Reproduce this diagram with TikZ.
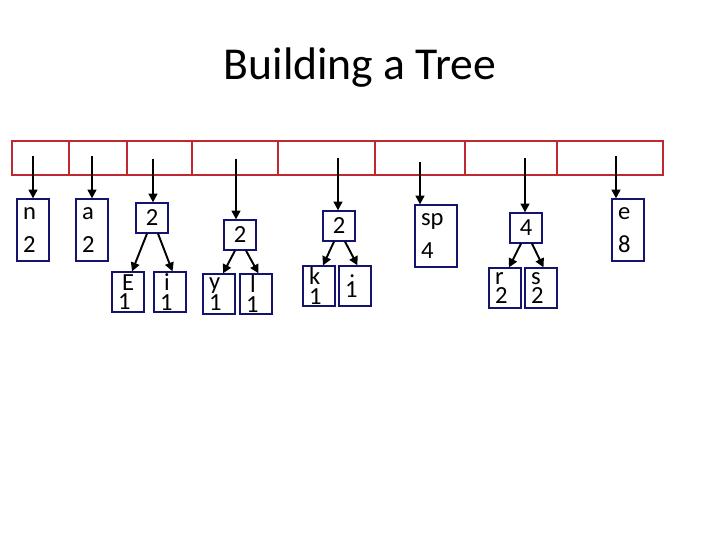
\documentclass[tikz,border=0pt]{standalone}
\usepackage{fontspec}
\setmainfont{Carlito}
\usetikzlibrary{arrows.meta}
\definecolor{slotred}{RGB}{192,40,48}
\definecolor{boxblue}{RGB}{20,20,110}
\tikzset{
  slot/.style={draw=slotred, line width=0.6pt},
  tall/.style={draw=boxblue, line width=0.7pt, minimum width=0.64cm, minimum height=1.24cm,
    align=left, inner xsep=3pt, inner ysep=1pt, font=\fontsize{14}{17}\selectfont, text width=0.4cm},
  count/.style={draw=boxblue, line width=0.7pt, minimum width=0.64cm, minimum height=0.6cm,
    inner sep=1pt, font=\fontsize{14}{17}\selectfont},
  leaf/.style={draw=boxblue, line width=0.7pt, minimum width=0.64cm, minimum height=0.8cm,
    align=left, inner xsep=3pt, inner ysep=1pt, font=\fontsize{14}{11}\selectfont, text width=0.4cm},
  ptr/.style={line width=1.1pt, -{Triangle[length=5pt,width=5pt]}}
}
\begin{document}
\begin{tikzpicture}[x=0.02cm, y=-0.02cm]
  \useasboundingbox (0,0) rectangle (720,540);
  \node (title) at (360,68) {\fontsize{26}{30}\selectfont Building a Tree};

  % table of slots
  \draw[slot] (12,141) rectangle (663,175);
  \foreach \x in {69,127,192,278,375,465,557}
    \draw[slot] (\x,141) -- (\x,175);

  % single symbols
  \node[tall] (n) at (33,230) {n\\[2pt]2};
  \node[tall] (a) at (92,230) {a\\[2pt]2};
  \node[tall, minimum width=0.84cm, text width=0.6cm] (sp) at (436,236) {sp\\[2pt]4};
  \node[tall] (e) at (628,230) {e\\[2pt]8};

  % subtrees
  \node[count] (t1) at (152,218) {2};
  \node[leaf] (E) at (128,292) {\,E\\1};
  \node[leaf] (i) at (170,292) {\,i\\1};
  \node[count] (t2) at (240,235) {2};
  \node[leaf] (y) at (219,294) {y\\1};
  \node[leaf] (l) at (256,294) {\,l\\1};
  \node[count] (t3) at (339,226) {2};
  \node[leaf] (k) at (319,286) {k\\1};
  \node[leaf] (dot) at (355,286) {\,.\\1};
  \node[count] (t4) at (526,228) {4};
  \node[leaf] (r) at (505,288) {r\\2};
  \node[leaf] (s) at (541,288) {s\\2};

  % pointers from the slots
  \foreach \name/\x/\y in {n/33/156, a/92/156, t1/153/159, t2/236/159,
                           t3/338/158, sp/420/162, t4/525/158, e/616/156}
  {
    \coordinate (p\name) at (\x,\y);
    \draw[ptr] (p\name) -- (p\name |- \name.north);
  }

  % children
  \foreach \up/\lft/\rgt in {t1/E/i, t2/y/l, t3/k/dot, t4/r/s}
  {
    \draw[ptr] ([xshift=-0.1cm]\up.south) -- ([xshift=0.08cm]\lft.north);
    \draw[ptr] ([xshift=0.12cm]\up.south) -- ([xshift=0.05cm]\rgt.north);
  }
\end{tikzpicture}
\end{document}
